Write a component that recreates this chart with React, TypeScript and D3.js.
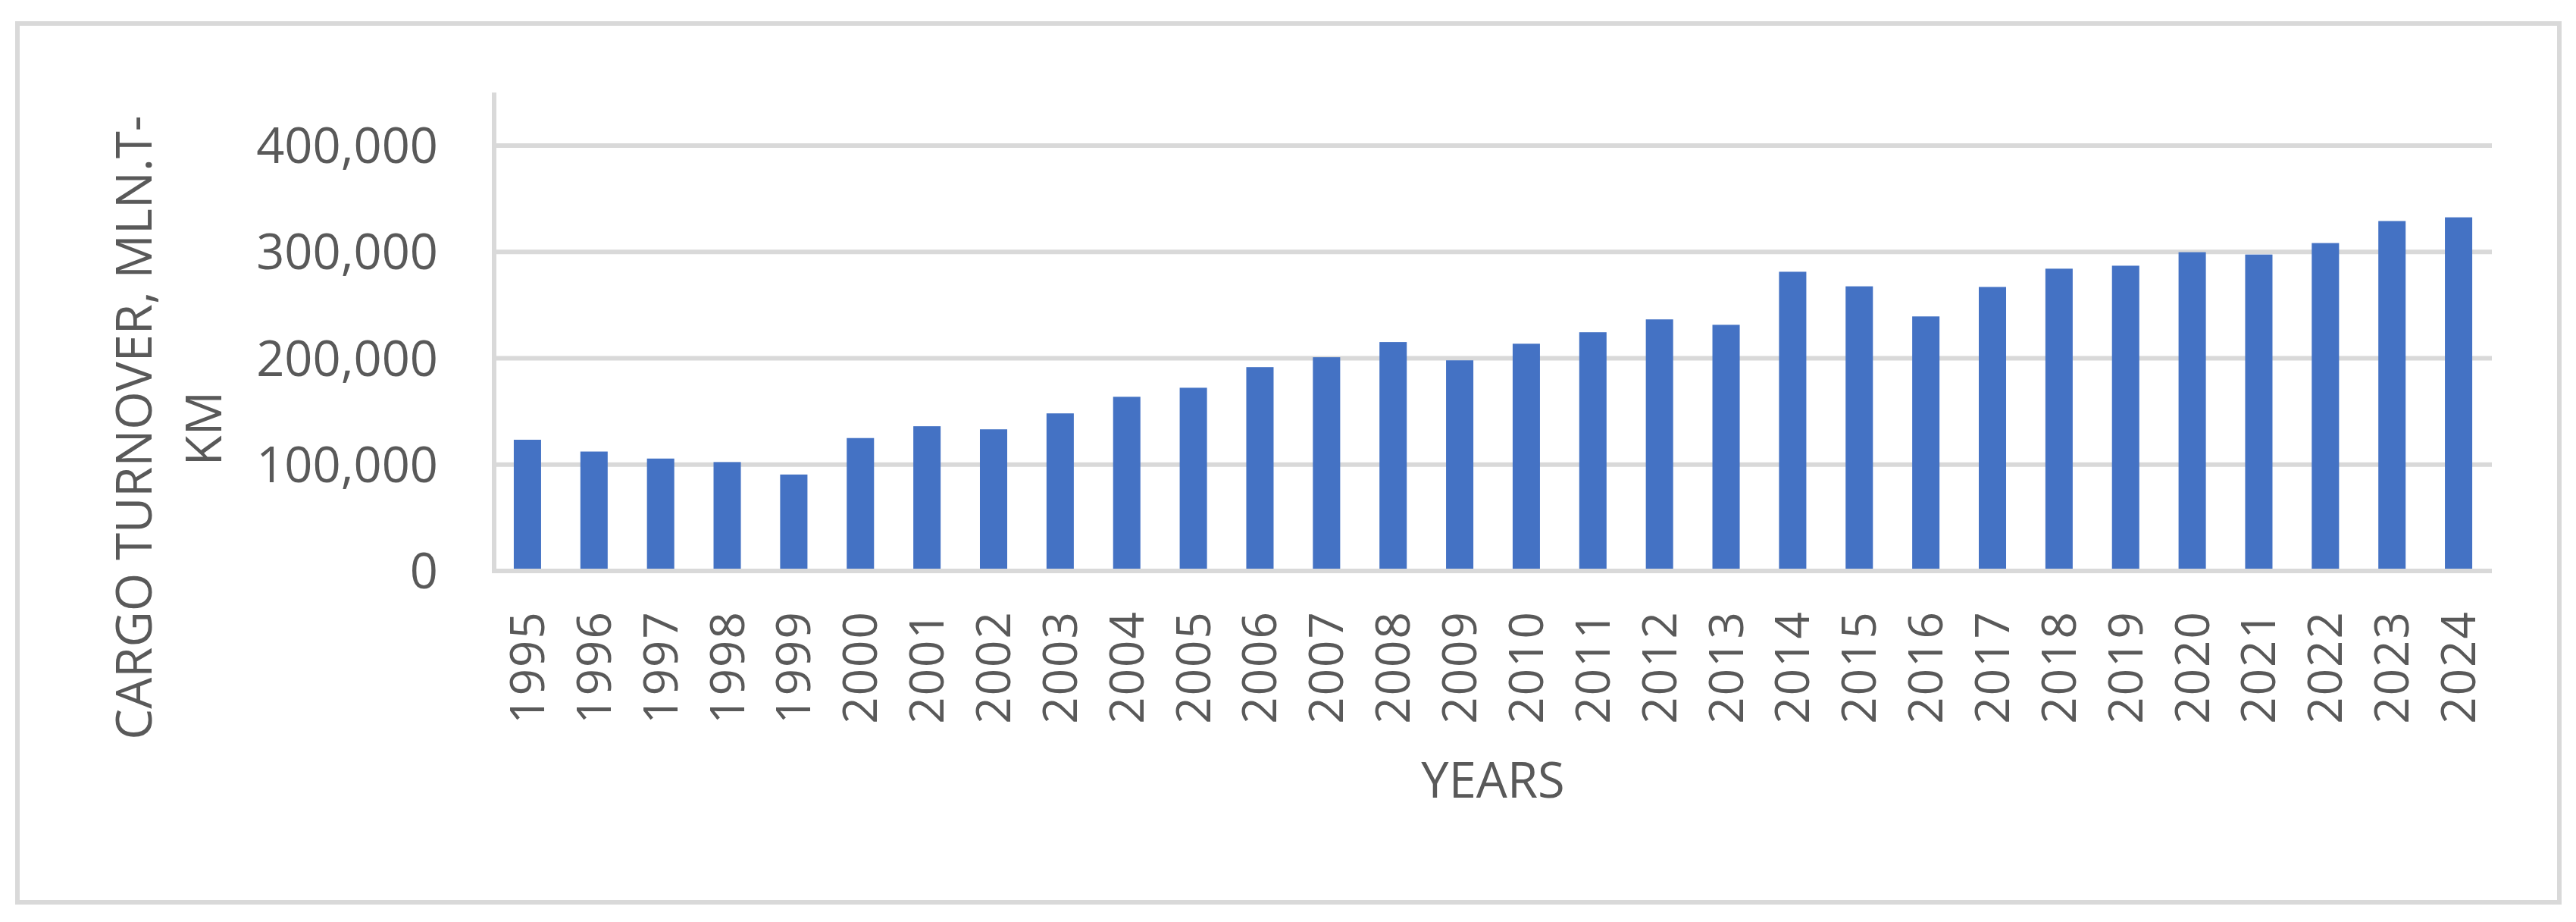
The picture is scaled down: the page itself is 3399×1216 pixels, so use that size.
import React from 'react';
import * as d3 from 'd3';

const years = [
  '1995', '1996', '1997', '1998', '1999', '2000', '2001', '2002', '2003', '2004',
  '2005', '2006', '2007', '2008', '2009', '2010', '2011', '2012', '2013', '2014',
  '2015', '2016', '2017', '2018', '2019', '2020', '2021', '2022', '2023', '2024',
];
const turnover = [
  123400, 112300, 105700, 102400, 90700, 125000, 136100, 133200, 148200, 163800,
  172300, 191700, 201000, 215300, 198100, 213700, 224500, 236600, 231500, 281400,
  267700, 239400, 267100, 284300, 287100, 299800, 297600, 308400, 329100, 332600,
];
const yTicks = [0, 100000, 200000, 300000, 400000];

const W = 3399;
const H = 1216;
const plot = { left: 652, right: 3288, top: 122, bottom: 753 };
const grid = '#d9d9d9';
const ink = '#595959';
const font = '"Open Sans", sans-serif';

const App = () => {
  const x = d3.scaleBand().domain(years).range([plot.left, plot.right]).paddingInner(0.59).paddingOuter(0.295);
  const y = d3.scaleLinear().domain([0, 450000]).range([plot.bottom, plot.top]);
  const fmt = d3.format(',');

  return (
    <svg width={W} height={H} style={{ position: 'absolute', left: 0, top: 0, background: '#fff' }}>
      <rect x={23} y={31} width={3354} height={1159} fill="#fff" stroke={grid} strokeWidth={6} />

      {yTicks.filter((t) => t > 0).map((t) => (
        <line key={t} x1={plot.left} x2={plot.right} y1={y(t)} y2={y(t)} stroke={grid} strokeWidth={6} />
      ))}

      {years.map((yr, i) => (
        <rect key={yr} x={x(yr)} y={y(turnover[i])} width={x.bandwidth()} height={y(0) - y(turnover[i])} fill="#4472c4" />
      ))}

      <line x1={plot.left} x2={plot.left} y1={plot.top} y2={plot.bottom + 3} stroke={grid} strokeWidth={6} />
      <line x1={plot.left - 3} x2={plot.right} y1={plot.bottom} y2={plot.bottom} stroke={grid} strokeWidth={6} />

      {yTicks.map((t) => (
        <text key={t} x={578} y={y(t) + 23} textAnchor="end" fill={ink} fontSize={65} fontFamily={font}>
          {fmt(t)}
        </text>
      ))}

      {years.map((yr) => {
        const cx = x(yr) + x.bandwidth() / 2 + 22;
        return (
          <text key={yr} transform={`translate(${cx},805) rotate(-90)`} textAnchor="end" fill={ink} fontSize={62} fontFamily={font} letterSpacing={2}>
            {yr}
          </text>
        );
      })}

      <text x={(plot.left + plot.right) / 2} y={1052} textAnchor="middle" fill={ink} fontSize={65} fontFamily={font}>
        YEARS
      </text>

      <g fill={ink} fontSize={65} fontFamily={font} textAnchor="middle">
        <text transform="translate(200,564) rotate(-90)">CARGO TURNOVER, MLN.T-</text>
        <text transform="translate(292,565) rotate(-90)">KM</text>
      </g>
    </svg>
  );
};

export default App;
